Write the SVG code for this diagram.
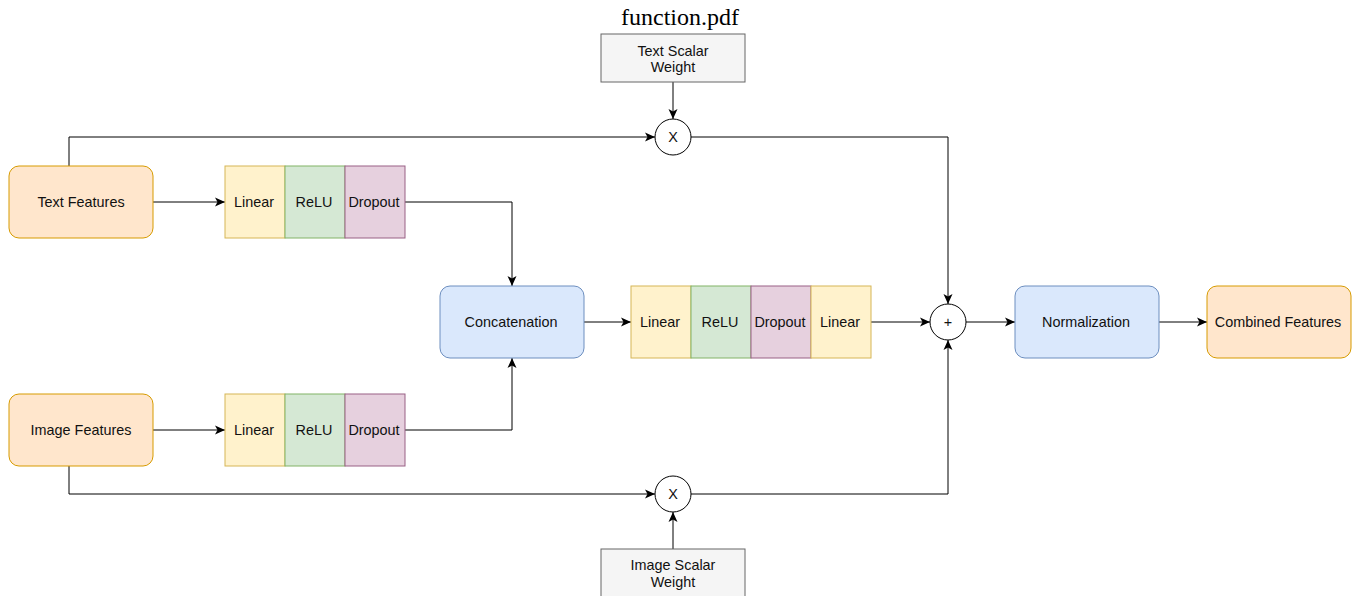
<svg xmlns="http://www.w3.org/2000/svg" width="1353" height="596" viewBox="0 0 1353 596">
<style>
text{font-family:"Liberation Sans",Arial,sans-serif;font-size:14.4px;fill:#111111;text-anchor:middle;dominant-baseline:central}
.or{fill:#ffe6cc;stroke:#d79b00;stroke-width:1}
.bl{fill:#dae8fc;stroke:#6c8ebf;stroke-width:1}
.ye{fill:#fff2cc;stroke:#d6b656;stroke-width:1}
.gr{fill:#d5e8d4;stroke:#82b366;stroke-width:1}
.pu{fill:#e6d0de;stroke:#996185;stroke-width:1}
.gy{fill:#f5f5f5;stroke:#666666;stroke-width:1}
.ci{fill:#ffffff;stroke:#000000;stroke-width:1}
.c path{fill:none;stroke:#000;stroke-width:1;marker-end:url(#ah)}
</style>
<defs>
<marker id="ah" markerWidth="12" markerHeight="12" refX="10" refY="6" orient="auto" markerUnits="userSpaceOnUse">
<path d="M0,1.5 L10,6 L0,10.5 L2.5,6 Z" fill="#000"/>
</marker>
</defs>
<rect width="1353" height="596" fill="#ffffff"/>
<text x="680" y="17" style="font-family:'Liberation Serif','DejaVu Serif',serif;font-size:24px;fill:#000">function.pdf</text>
<g class="c">
<path d="M69,166 V137 H655"/>
<path d="M673,82 V119"/>
<path d="M691,137 H948 V304"/>
<path d="M153,202 H225"/>
<path d="M405,202 H512 V286"/>
<path d="M153,430 H225"/>
<path d="M405,430 H512 V358"/>
<path d="M69,466 V494 H655"/>
<path d="M673,549 V512"/>
<path d="M691,494 H948 V340"/>
<path d="M584,322 H631"/>
<path d="M871,322 H930"/>
<path d="M966,322 H1015"/>
<path d="M1159,322 H1207"/>
</g>
<g id="text-features"><rect class="or" x="9" y="166" width="144" height="72" rx="10"/><text x="81" y="202">Text Features</text></g>
<g id="image-features"><rect class="or" x="9" y="394" width="144" height="72" rx="10"/><text x="81" y="430">Image Features</text></g>
<g id="text-mlp">
<rect class="ye" x="225" y="166" width="60" height="72"/><text x="254" y="202">Linear</text>
<rect class="gr" x="285" y="166" width="60" height="72"/><text x="314" y="202">ReLU</text>
<rect class="pu" x="345" y="166" width="60" height="72"/><text x="374" y="202">Dropout</text>
</g>
<g id="image-mlp">
<rect class="ye" x="225" y="394" width="60" height="72"/><text x="254" y="430">Linear</text>
<rect class="gr" x="285" y="394" width="60" height="72"/><text x="314" y="430">ReLU</text>
<rect class="pu" x="345" y="394" width="60" height="72"/><text x="374" y="430">Dropout</text>
</g>
<g id="concatenation"><rect class="bl" x="440" y="286" width="144" height="72" rx="10"/><text x="511" y="322">Concatenation</text></g>
<g id="fusion-mlp">
<rect class="ye" x="631" y="286" width="60" height="72"/><text x="660" y="322">Linear</text>
<rect class="gr" x="691" y="286" width="60" height="72"/><text x="720" y="322">ReLU</text>
<rect class="pu" x="751" y="286" width="60" height="72"/><text x="780" y="322">Dropout</text>
<rect class="ye" x="811" y="286" width="60" height="72"/><text x="840" y="322">Linear</text>
</g>
<g id="plus"><circle class="ci" cx="948" cy="322" r="18"/><text x="948" y="322">+</text></g>
<g id="normalization"><rect class="bl" x="1015" y="286" width="144" height="72" rx="10"/><text x="1086" y="322">Normalization</text></g>
<g id="combined-features"><rect class="or" x="1207" y="286" width="144" height="72" rx="10"/><text x="1278" y="322">Combined Features</text></g>
<g id="text-scalar-weight"><rect class="gy" x="601" y="34" width="144" height="48"/><text x="673" y="51">Text Scalar</text><text x="673" y="67">Weight</text></g>
<g id="text-mult"><circle class="ci" cx="673" cy="137" r="18"/><text x="673" y="137">X</text></g>
<g id="image-mult"><circle class="ci" cx="673" cy="494" r="18"/><text x="673" y="494">X</text></g>
<g id="image-scalar-weight"><rect class="gy" x="601" y="549" width="144" height="50"/><text x="673" y="565">Image Scalar</text><text x="673" y="582">Weight</text></g>
</svg>
